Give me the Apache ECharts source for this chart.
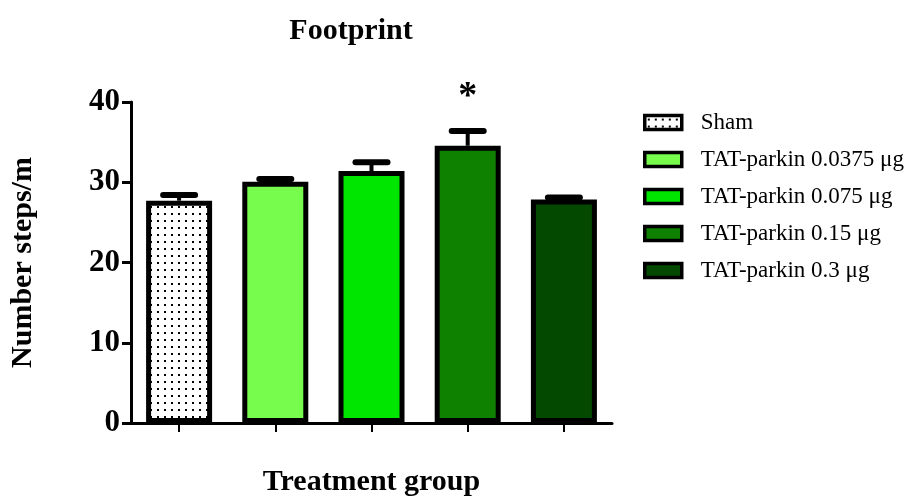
<!DOCTYPE html>
<html>
<head>
<meta charset="utf-8">
<script src="https://cdn.jsdelivr.net/npm/echarts@6/dist/echarts.min.js"></script>
<style>html,body{margin:0;padding:0;background:#fff;}#c{width:914px;height:497px;}</style>
</head>
<body>
<div id="c"></div>
<script>
const categories = ['Sham', 'TAT-parkin 0.0375 μg', 'TAT-parkin 0.075 μg', 'TAT-parkin 0.15 μg', 'TAT-parkin 0.3 μg'];
const means = [27.7, 30.05, 31.4, 34.55, 27.85];
const errors = [0.7, 0.35, 1.1, 1.85, 0.25];
const sigLabels = ['', '', '', '*', ''];
const colors = ['#ffffff', '#77fc4d', '#00e600', '#0e8200', '#034a00'];
const yTicks = [0, 10, 20, 30, 40];

const FONT = '"Liberation Serif", "Times New Roman", serif';

function dotPattern() {
  const cv = document.createElement('canvas');
  cv.width = 7; cv.height = 7;
  const ctx = cv.getContext('2d');
  ctx.fillStyle = '#fff';
  ctx.fillRect(0, 0, 7, 7);
  ctx.fillStyle = '#000';
  ctx.fillRect(3, 3, 2, 2);
  return cv;
}

const chart = echarts.init(document.getElementById('c'), null, {renderer: 'canvas'});

const barSeries = categories.map((name, i) => ({
  name: name,
  type: 'bar',
  barWidth: 66,
  barGap: '-100%',
  data: categories.map((c, j) => j === i ? means[j] : '-'),
  itemStyle: {
    color: i === 0 ? {image: dotPattern(), repeat: 'repeat'} : colors[i],
    borderColor: '#000',
    borderWidth: 5
  },
  z: 2
}));

const errSeries = {
  type: 'custom',
  name: 'err',
  data: categories.map((c, i) => [i, means[i], means[i] + errors[i], sigLabels[i]]),
  renderItem: function (params, api) {
    const x = api.value(0);
    const top = api.coord([x, api.value(2)]);
    const base = api.coord([x, api.value(1)]);
    const half = 16;
    const children = [
      {type: 'line', shape: {x1: top[0], y1: base[1], x2: top[0], y2: top[1]}, style: {stroke: '#000', lineWidth: 4}},
      {type: 'line', shape: {x1: top[0] - half, y1: top[1], x2: top[0] + half, y2: top[1]}, style: {stroke: '#000', lineWidth: 6, lineCap: 'round'}}
    ];
    const lbl = sigLabels[params.dataIndex];
    if (lbl) {
      children.push({type: 'text', x: top[0], y: top[1] - 34, style: {text: lbl, fill: '#000', font: 'bold 38px ' + FONT, align: 'center', verticalAlign: 'middle'}});
    }
    return {type: 'group', children: children};
  },
  z: 5
};

chart.setOption({
  animation: false,
  backgroundColor: '#fff',
  title: {
    text: 'Footprint',
    left: 346,
    textAlign: 'center',
    top: 11,
    textStyle: {fontFamily: FONT, fontWeight: 'bold', fontSize: 30, color: '#000'}
  },
  legend: {
    data: categories,
    orient: 'vertical',
    left: 638,
    top: 106,
    itemWidth: 37,
    itemHeight: 14,
    itemGap: 14,
    icon: 'rect',
    itemStyle: {borderColor: '#000', borderWidth: 3.5},
    textStyle: {fontFamily: FONT, fontSize: 23, lineHeight: 23, color: '#000', padding: [0, 0, 0, 14]}
  },
  grid: {left: 131, right: 302, top: 102, bottom: 74, containLabel: false, outerBoundsMode: 'none'},
  xAxis: {
    type: 'category',
    data: categories,
    name: 'Treatment group',
    nameLocation: 'middle',
    nameGap: 44,
    nameTextStyle: {fontFamily: FONT, fontWeight: 'bold', fontSize: 30, color: '#000'},
    axisLine: {lineStyle: {color: '#000', width: 3}},
    axisTick: {show: true, interval: 0, alignWithLabel: true, length: 9, lineStyle: {color: '#000', width: 2}},
    axisLabel: {show: false, interval: 0}
  },
  yAxis: {
    type: 'value',
    min: 0,
    max: 40,
    interval: 10,
    name: 'Number steps/m',
    nameLocation: 'middle',
    nameGap: 93,
    nameTextStyle: {fontFamily: FONT, fontWeight: 'bold', fontSize: 30, color: '#000'},
    axisLine: {show: true, lineStyle: {color: '#000', width: 3}},
    axisTick: {show: true, length: 9, lineStyle: {color: '#000', width: 3}},
    splitLine: {show: false},
    axisLabel: {
      fontFamily: FONT, fontWeight: 'bold', fontSize: 31, color: '#000', margin: 11,
      formatter: function (v) { return yTicks.indexOf(v) >= 0 ? String(v) : ''; }
    }
  },
  series: barSeries.concat([errSeries])
});
</script>
</body>
</html>
